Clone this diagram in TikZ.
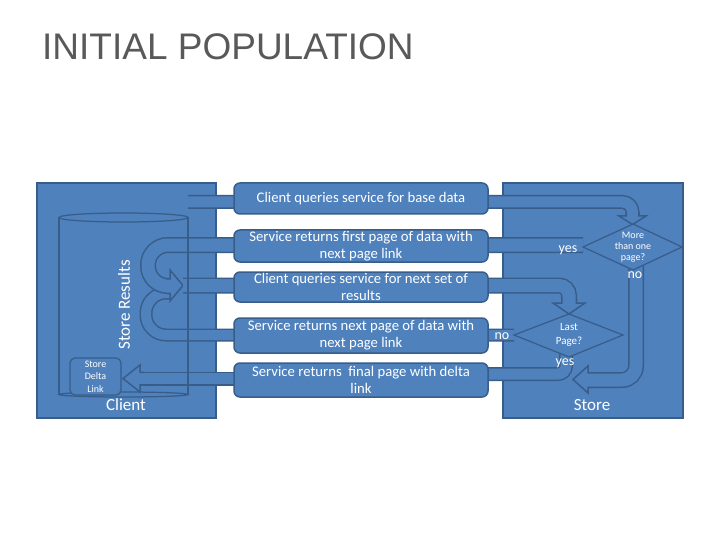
\documentclass[tikz,border=0pt]{standalone}
\usepackage{fontspec}
\setmainfont{Carlito}
\newfontfamily\titlefont{Liberation Sans}
\definecolor{bf}{HTML}{4F81BD}
\definecolor{bd}{HTML}{385D8A}
\definecolor{tg}{HTML}{595959}
\begin{document}
\begin{tikzpicture}[x=1pt,y=-1pt,
  panel/.style={fill=bf, draw=bd, line width=1.5pt},
  cyl/.style={draw=bd, line width=1.25pt},
  band/.style 2 args={draw=bf, line width=#1, preaction={draw=bd, line width=#2}},
  head/.style={fill=bf, draw=bd, line width=1.5pt, line join=miter},
  pbox/.style={rectangle, rounded corners=6pt, fill=bf, draw=bd, line width=1.5pt,
    text=white, align=center, inner sep=0pt, minimum width=254pt,
    font=\fontsize{14.7pt}{17pt}\selectfont},
  dia/.style={fill=bf, draw=bd, line width=1.25pt},
  lbl/.style={text=white, inner sep=0pt, font=\fontsize{14pt}{16pt}\selectfont}]
\useasboundingbox (0,0) rectangle (720,540);
\fill[white] (0,0) rectangle (720,540);

% title
\node[anchor=base west, inner sep=0pt, text=tg,
  font=\titlefont\fontsize{37pt}{40pt}\selectfont] (title) at (42,60) {INITIAL POPULATION};

% panels
\draw[panel] (37,183) rectangle (216,418);
\draw[panel] (503,183) rectangle (683,418);

% cylinder
\draw[cyl] (59,217) -- (59,394.5);
\draw[cyl] (188,217) -- (188,394.5);
\draw[cyl] (123.5,217.5) ellipse [x radius=64.5pt, y radius=4.5pt];
\draw[cyl] (123.5,394.5) ellipse [x radius=64.5pt, y radius=2.5pt];

% lower U (service returns next page -> client)
\draw[band={10pt}{13pt}, rounded corners=20pt] (514,335) -- (146,335) -- (146,293) -- (170,293);
% upper U (yes -> service returns first page -> client)
\draw[band={13pt}{16pt}, rounded corners=20pt] (583,245) -- (148,245) -- (148,286) -- (172,286);
\filldraw[head] (166,278.75) -- (170,278.75) -- (170,270) -- (183,285.5) -- (170,301) -- (170,293.25) -- (166,293.25);
% client queries for next set -> last page?
\draw[band={13pt}{16pt}, rounded corners=10pt] (183,285.5) -- (569,285.5) -- (569,305);
\filldraw[head] (561.75,299) -- (561.75,303) -- (553,303) -- (569,314) -- (585,303) -- (576.25,303) -- (576.25,299);
% client queries base data -> more than one page?
\draw[band={11pt}{14pt}, rounded corners=10pt] (188,202) -- (632.5,202) -- (632.5,217);
\filldraw[head] (626.25,212) -- (626.25,216) -- (619,216) -- (632.5,224.5) -- (646,216) -- (638.75,216) -- (638.75,212);
% final page -> store delta link
\draw[band={11pt}{14pt}] (240,378.5) -- (141,378.5);
\filldraw[head] (144,372.25) -- (140,372.25) -- (140,365) -- (123,378.5) -- (140,392) -- (140,384.75) -- (144,384.75);
% last page yes -> final page
\draw[band={11pt}{14pt}, rounded corners=8pt] (480,374) -- (566,374) -- (566,350);
% more than one page no -> merge
\draw[band={13pt}{16pt}, rounded corners=14pt] (636,262) -- (636,380) -- (587,380);
\filldraw[head] (592,372.75) -- (588,372.75) -- (588,366) -- (573,379.5) -- (588,393) -- (588,387.25) -- (592,387.25);

% cylinder edge over bands
\draw[cyl] (188,217) -- (188,394.5);

% store delta link
\node[rectangle, rounded corners=5pt, fill=bf, draw=bd, line width=1.25pt,
  minimum width=51pt, minimum height=37pt, text=white, align=center, inner sep=0pt,
  font=\fontsize{10pt}{12.5pt}\selectfont] (sdl) at (95.5,376.5) {Store\\Delta\\Link};

% process boxes
\node[pbox, minimum height=31pt] (b1) at (361,198.5) {Client queries service for base data};
\node[pbox, minimum height=32pt] (b2) at (361,246) {Service returns first page of data with\\next page link};
\node[pbox, minimum height=30pt] (b3) at (361,287) {Client queries service for next set of\\results};
\node[pbox, minimum height=35pt] (b4) at (361,335.5) {Service returns next page of data with\\next page link};
\node[pbox, minimum height=34pt] (b5) at (361,380) {Service returns\ \ final page with delta\\link};

% decisions
\draw[dia] (583,247) -- (633,224) -- (682,247) -- (633,270) -- cycle;
\node[text=white, align=center, inner sep=0pt, font=\fontsize{10pt}{11pt}\selectfont] (d1) at (633,247) {More\\than one\\page?};
\draw[dia] (514,335) -- (569,314) -- (623,335) -- (569,357) -- cycle;
\node[text=white, align=center, inner sep=0pt, font=\fontsize{11pt}{14pt}\selectfont] (d2) at (569,335) {Last\\Page?};

% labels
\node[lbl] (yes1) at (568,250) {yes};
\node[lbl] (no1) at (635,275) {no};
\node[lbl] (no2) at (502,336) {no};
\node[lbl] (yes2) at (565,363) {yes};
\node[lbl, font=\fontsize{17pt}{19pt}\selectfont] (client) at (126,405) {Client};
\node[lbl, font=\fontsize{17pt}{19pt}\selectfont] (store) at (592,405) {Store};
\node[lbl, rotate=90, font=\fontsize{17pt}{19pt}\selectfont] (sres) at (124,305) {Store Results};
\end{tikzpicture}
\end{document}
